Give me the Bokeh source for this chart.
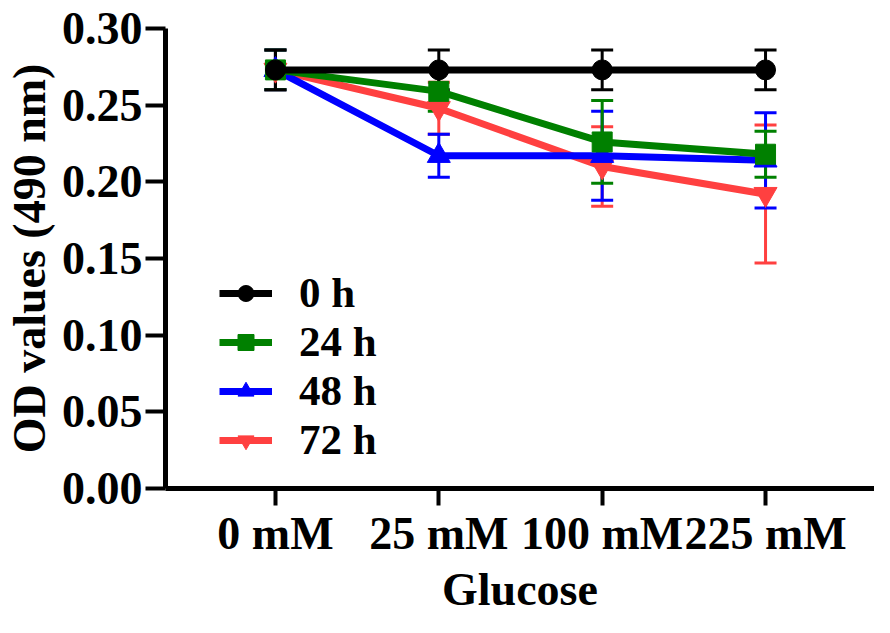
from bokeh.plotting import figure
from bokeh.models import (ColumnDataSource, Whisker, TeeHead, FixedTicker, Legend,
                          LegendItem, Range1d, PrintfTickFormatter)
from bokeh.embed import file_html
from bokeh.resources import INLINE

# ---- data ----
concentrations = ["0 mM", "25 mM", "100 mM", "225 mM"]
x_pos = [1, 2, 3, 4]
series_names = ["0 h", "24 h", "48 h", "72 h"]
od_0h = [0.273, 0.273, 0.273, 0.273]
od_24h = [0.273, 0.259, 0.226, 0.218]
od_48h = [0.273, 0.217, 0.217, 0.214]
od_72h = [0.273, 0.248, 0.210, 0.192]
sd_0h = [0.013, 0.013, 0.013, 0.013]
sd_24h = [0.013, 0.013, 0.027, 0.015]
sd_48h = [0.013, 0.014, 0.029, 0.031]
sd_72h = [0.013, 0.017, 0.026, 0.045]
y_ticks = [0.0, 0.05, 0.10, 0.15, 0.20, 0.25, 0.30]

colors = ["#000000", "#008000", "#0000FF", "#FF4040"]
markers = ["circle", "square", "triangle", "inverted_triangle"]
msizes = [20, 20, 23, 23]
means = [od_0h, od_24h, od_48h, od_72h]
sds = [sd_0h, sd_24h, sd_48h, sd_72h]

FONT = "Liberation Serif"
FS = "46px"

p = figure(width=874, height=617, output_backend="svg", toolbar_location=None,
           x_range=Range1d(0.327, 4.667), y_range=Range1d(0, 0.30),
           min_border_left=158, min_border_right=0, min_border_top=28,
           min_border_bottom=120)
p.outline_line_color = None
p.xgrid.visible = False
p.ygrid.visible = False
p.background_fill_color = "white"
p.border_fill_color = "white"

line_rs = {}
scat_rs = {}
# draw from bottom to top: 72h, 48h, 24h, 0h
for i in [3, 2, 1, 0]:
    m = means[i]
    s = sds[i]
    src = ColumnDataSource(dict(x=x_pos, y=m,
                                upper=[a + b for a, b in zip(m, s)],
                                lower=[a - b for a, b in zip(m, s)]))
    w = Whisker(source=src, base="x", upper="upper", lower="lower",
                line_color=colors[i], line_width=3,
                upper_head=TeeHead(size=22, line_color=colors[i], line_width=3),
                lower_head=TeeHead(size=22, line_color=colors[i], line_width=3))
    p.add_layout(w)
    line_rs[i] = p.line("x", "y", source=src, line_color=colors[i], line_width=7)
    scat_rs[i] = p.scatter("x", "y", source=src, marker=markers[i], size=msizes[i],
                           fill_color=colors[i], line_color=colors[i])

# axes
for ax in (p.xaxis[0], p.yaxis[0]):
    ax.axis_line_width = 5
    ax.major_tick_line_width = 4
    ax.major_tick_in = 0
    ax.minor_tick_line_color = None
    ax.major_label_text_font = FONT
    ax.major_label_text_font_style = "bold"
    ax.major_label_text_font_size = FS
    ax.major_label_text_color = "black"
    ax.axis_label_text_font = FONT
    ax.axis_label_text_font_style = "bold"
    ax.axis_label_text_font_size = FS
    ax.axis_label_text_color = "black"

p.xaxis.ticker = FixedTicker(ticks=x_pos)
p.xaxis.major_label_overrides = dict(zip(x_pos, concentrations))
p.xaxis.major_tick_out = 17
p.xaxis.major_label_standoff = 2
p.xaxis.axis_label = "Glucose"
p.xaxis.axis_label_standoff = 2

p.yaxis.ticker = FixedTicker(ticks=y_ticks)
p.yaxis.formatter = PrintfTickFormatter(format="%.2f")
p.yaxis.major_tick_out = 20
p.yaxis.major_label_standoff = 3
p.yaxis.axis_label = "OD values (490 nm)"
p.yaxis.axis_label_standoff = 4

items = [LegendItem(label=series_names[i], renderers=[line_rs[i], scat_rs[i]]) for i in range(4)]
legend = Legend(items=items, location=(54, 24), padding=0, margin=0, spacing=-2,
                glyph_width=53, glyph_height=40, label_height=40, label_standoff=27,
                label_text_font=FONT, label_text_font_style="bold",
                label_text_font_size="43px", label_text_color="black",
                border_line_color=None, background_fill_alpha=0)
p.add_layout(legend)

open("out.html", "w").write(file_html(p, INLINE))
